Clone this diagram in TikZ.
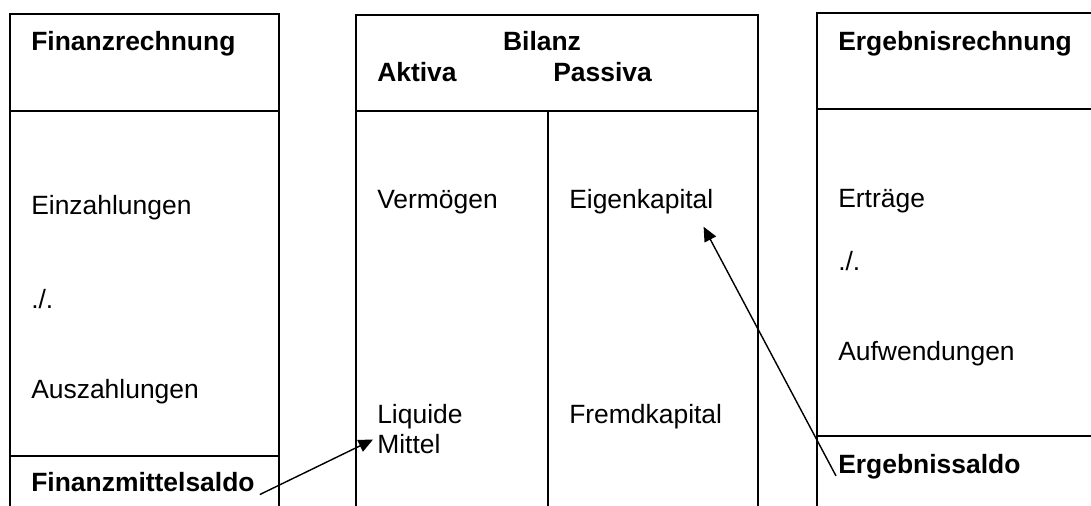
\documentclass[tikz,border=0pt]{standalone}
\usepackage{fontspec}
\setmainfont{Liberation Sans}
\usepackage{tikz}
\usetikzlibrary{arrows.meta}

\newcommand{\grosstext}{\fontsize{18.8pt}{22pt}\selectfont}
\tikzset{
  txt/.style={anchor=base west, inner sep=0pt, font=\grosstext},
  hd/.style={txt, font=\grosstext\bfseries},
  frame/.style={line width=1.1pt},
  pfeil/.style={-{Triangle[length=0.36cm,width=0.32cm]}, line width=1pt}
}

\begin{document}
\begin{tikzpicture}[x=0.025cm,y=-0.025cm]
\useasboundingbox (0,0) rectangle (1091,506);
% Finanzrechnung
\draw[frame] (10,506)--(10,14)--(279,14)--(279,506);
\draw[frame] (10,111)--(279,111);
\draw[frame] (10,456)--(279,456);
\node[hd] (fr) at (31,50) {Finanzrechnung};
\node[txt] (ein) at (31,214) {Einzahlungen};
\node[txt] (minusF) at (31,308) {./.};
\node[txt] (aus) at (31,398) {Auszahlungen};
\node[hd] (fsaldo) at (31,491) {Finanzmittelsaldo};
% Bilanz
\draw[frame] (356,506)--(356,15)--(758,15)--(758,506);
\draw[frame] (356,111)--(758,111);
\draw[frame] (548,111)--(548,506);
\node[hd,anchor=base] (bil) at (542,50) {Bilanz};
\node[hd] (akt) at (377,81) {Aktiva};
\node[hd] (pas) at (553,81) {Passiva};
\node[txt] (verm) at (377,208) {Vermögen};
\node[txt] (eigen) at (569,208) {Eigenkapital};
\node[txt] (liq) at (377,423) {Liquide};
\node[txt] (mittel) at (377,453) {Mittel};
\node[txt] (fremd) at (569,423) {Fremdkapital};
% Ergebnisrechnung
\draw[frame] (817,506)--(817,13)--(1091,13);
\draw[frame] (817,109)--(1091,109);
\draw[frame] (817,436)--(1091,436);
\node[hd] (er) at (838,50) {Ergebnisrechnung};
\node[txt] (ertr) at (838,207) {Erträge};
\node[txt] (minusE) at (838,270) {./.};
\node[txt] (aufw) at (838,360) {Aufwendungen};
\node[hd] (esaldo) at (838,473) {Ergebnissaldo};
% Pfeile
\draw[pfeil] ([shift={(5,3)}]fsaldo.south east) -- ([shift={(-4,-4)}]mittel.west);
\draw[pfeil] ([shift={(-2,-3)}]esaldo.south west) -- ([shift={(-10,13)}]eigen.south east);
\end{tikzpicture}
\end{document}
